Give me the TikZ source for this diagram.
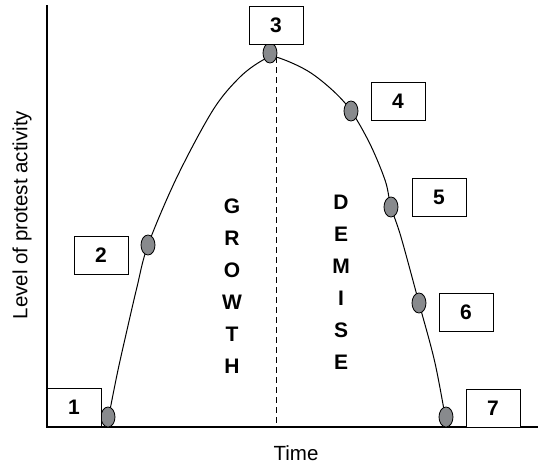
\documentclass[tikz,border=0pt]{standalone}
\usepackage{fontspec}
\setmainfont{Liberation Sans}
\usetikzlibrary{shapes.geometric}
\definecolor{dotgray}{RGB}{136,138,141}
\tikzset{
  numbox/.style={draw=black, line width=1pt, fill=white, minimum width=54pt, minimum height=38pt, inner sep=0pt, font=\bfseries\fontsize{21}{24}\selectfont},
  stage/.style={ellipse, draw=black, line width=0.8pt, fill=dotgray, minimum width=14pt, minimum height=20pt, inner sep=0pt},
  axislbl/.style={font=\fontsize{20.5}{24}\selectfont},
  vword/.style={align=center, font=\bfseries\fontsize{21}{32}\selectfont, inner sep=0pt},
  curve/.style={line width=1pt},
  axisline/.style={line width=1.2pt}
}
\begin{document}
\begin{tikzpicture}[x=1pt,y=-1pt]
\useasboundingbox (0,0) rectangle (538,464);
% axes
\coordinate (ytop) at (47,5);
\coordinate (origin) at (47,427);
\coordinate (xend) at (538,427);
\draw[axisline] (ytop) -- (origin) -- (xend);
% peak and dashed divider
\coordinate (peak) at (276,57);
\coordinate (peakbase) at (276,427);
\draw[line width=1pt, dash pattern=on 6pt off 4pt] (peak) -- (peakbase);
% curve
\draw[curve] plot[smooth, tension=0.55] coordinates {
  (107,427) (110,410) (118,370) (127,330) (137,287) (148,245) (177,177) (213,110) (240,77) (263,60) (276,57)
  (311,73) (345,103) (368,140) (385,180) (391,207) (401,237) (419,303) (435,363) (447,427)};
% stage dots
\node[stage] (d1) at (108,417) {};
\node[stage] (d2) at (148,245) {};
\node[stage] (d3) at (270,53) {};
\node[stage] (d4) at (351,111) {};
\node[stage] (d5) at (391,207) {};
\node[stage] (d6) at (419,303) {};
\node[stage] (d7) at (446,417) {};
% number boxes
\node[numbox] (b1) at (74,407.5) {1};
\node[numbox] (b2) at (101,255) {2};
\node[numbox] (b3) at (276,25) {3};
\node[numbox] (b4) at (398,101) {4};
\node[numbox] (b5) at (439,197.5) {5};
\node[numbox] (b6) at (466,312) {6};
\node[numbox] (b7) at (493,408) {7};
% vertical words
\node[vword] (growth) at (232,286) {G\\R\\O\\W\\T\\H};
\node[vword] (demise) at (341,282.5) {D\\E\\M\\I\\S\\E};
% axis labels
\node[axislbl] (xlab) at (296,453) {Time};
\node[axislbl, rotate=90] (ylab) at (22,215) {Level of protest activity};
\end{tikzpicture}
\end{document}
